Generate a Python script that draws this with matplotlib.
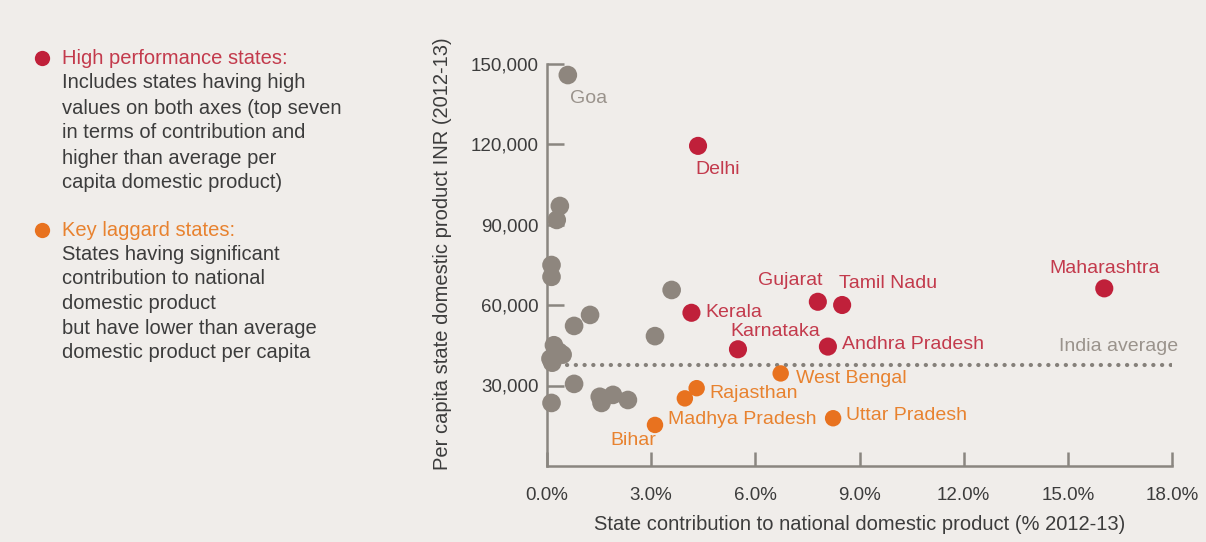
import matplotlib
matplotlib.use('Agg')
import matplotlib.pyplot as plt
from matplotlib.lines import Line2D

plt.rcParams['font.family'] = ['Liberation Sans', 'DejaVu Sans']

# 数据
# 其他邦（灰色）
gray_x = [0.60, 0.37, 0.28, 0.13, 0.13, 3.59, 1.24, 0.78, 3.11,
          0.20, 0.35, 0.45, 0.10, 0.15, 0.78, 0.13, 1.52, 1.57, 1.90, 2.33]
gray_y = [145700, 96900, 91700, 74900, 70500, 65600, 56300, 52200, 48400,
          45000, 42500, 41500, 40000, 38500, 30600, 23500, 25800, 23500, 26500, 24600]
goa_index = 0

# 高表现邦（红色）
high_names = ['Delhi', 'Kerala', 'Karnataka', 'Gujarat', 'Tamil Nadu', 'Andhra Pradesh', 'Maharashtra']
high_x = [4.35, 4.16, 5.50, 7.80, 8.50, 8.09, 16.05]
high_y = [119300, 57100, 43500, 61200, 60000, 44500, 66200]

# 落后邦（橙色）
lag_names = ['West Bengal', 'Rajasthan', 'Madhya Pradesh', 'Bihar', 'Uttar Pradesh']
lag_x = [6.73, 4.31, 3.97, 3.11, 8.24]
lag_y = [34500, 29000, 25200, 15300, 17800]

india_avg = 37600

x_ticks = [0, 3, 6, 9, 12, 15, 18]
y_ticks = [30000, 60000, 90000, 120000, 150000]

# 颜色
bg = '#f0edea'
red = '#c0203a'
red_txt = '#c33a4c'
orange = '#e8721f'
orange_txt = '#e8822f'
gray = '#8e867e'
gray_txt = '#9a938c'
axis_col = '#8a8680'
tick_txt = '#3c3c3c'

W, H = 1206, 542
fig = plt.figure(figsize=(W / 100, H / 100), dpi=100, facecolor=bg)
ax = fig.add_axes([547 / W, 1 - 466 / H, (1172 - 547) / W, (466 - 63.5) / H])
ax.set_facecolor(bg)

ax.set_xlim(0, 18)
ax.set_ylim(0, 150000)

# 点
ax.scatter(gray_x, gray_y, s=180, color=gray, edgecolors='none', clip_on=False, zorder=3)
ax.scatter(high_x, high_y, s=170, color=red, edgecolors='none', clip_on=False, zorder=4)
ax.scatter(lag_x, lag_y, s=140, color=orange, edgecolors='none', clip_on=False, zorder=4)

# 印度平均线
ax.plot([0.57, 18], [india_avg, india_avg], color='#85807a', lw=3.0,
        linestyle=(0, (0.05, 2.05)), dash_capstyle='round', zorder=2)
ax.annotate('India average', (18, india_avg), xytext=(6, 19), textcoords='offset pixels',
            ha='right', va='center', fontsize=14, color=gray_txt)

# 标签偏移（像素）
high_off = {'Delhi': (20, -24, 'center'), 'Kerala': (14, 0, 'left'),
            'Karnataka': (-8, 18, 'left'), 'Gujarat': (5, 21, 'right'),
            'Tamil Nadu': (-3, 21, 'left'), 'Andhra Pradesh': (14, 2, 'left'),
            'Maharashtra': (0, 20, 'center')}
lag_off = {'West Bengal': (15, -5, 'left'), 'Rajasthan': (13, -5, 'left'),
           'Madhya Pradesh': (-17, -21, 'left'), 'Bihar': (-22, -16, 'center'),
           'Uttar Pradesh': (13, 3, 'left')}

for n, x, y in zip(high_names, high_x, high_y):
    dx, dy, ha = high_off[n]
    ax.annotate(n, (x, y), xytext=(dx, dy), textcoords='offset pixels',
                ha=ha, va='center', fontsize=14, color=red_txt, zorder=5)
for n, x, y in zip(lag_names, lag_x, lag_y):
    dx, dy, ha = lag_off[n]
    ax.annotate(n, (x, y), xytext=(dx, dy), textcoords='offset pixels',
                ha=ha, va='center', fontsize=14, color=orange_txt, zorder=5)
ax.annotate('Goa', (gray_x[goa_index], gray_y[goa_index]), xytext=(2, -23),
            textcoords='offset pixels', ha='left', va='center', fontsize=14, color=gray_txt)

# 坐标轴
for s in ['top', 'right']:
    ax.spines[s].set_visible(False)
for s in ['left', 'bottom']:
    ax.spines[s].set_color(axis_col)
    ax.spines[s].set_linewidth(1.8)

ax.set_xticks(x_ticks)
ax.set_xticklabels(['%.1f%%' % v for v in x_ticks])
ax.set_yticks(y_ticks)
ax.set_yticklabels(['{:,}'.format(v) for v in y_ticks])
ax.tick_params(axis='x', direction='in', length=10, width=1.8, color=axis_col,
               pad=15, labelsize=13.5, labelcolor=tick_txt)
ax.tick_params(axis='y', direction='in', length=12, width=1.8, color=axis_col,
               pad=6, labelsize=13.5, labelcolor=tick_txt)

ax.set_xlabel('State contribution to national domestic product (% 2012-13)',
              fontsize=14.5, color=tick_txt, labelpad=8)
ax.set_ylabel('Per capita state domestic product INR (2012-13)',
              fontsize=14.5, color=tick_txt)
ax.yaxis.set_label_coords((452 - 547) / (1172 - 547), (466 - 254) / (466 - 63.5))

# 左侧说明文字
def fx(px):
    return px / W


def fy(py):
    return 1 - py / H


fig.add_artist(Line2D([fx(42)], [fy(58)], marker='o', markersize=11, color=red,
                      markeredgewidth=0, transform=fig.transFigure))
fig.add_artist(Line2D([fx(42)], [fy(230)], marker='o', markersize=11, color=orange,
                      markeredgewidth=0, transform=fig.transFigure))

fs_note = 14.5
fig.text(fx(62), fy(58), 'High performance states:', color=red_txt, fontsize=fs_note, va='center')
high_desc = ['Includes states having high', 'values on both axes (top seven',
             'in terms of contribution and', 'higher than average per',
             'capita domestic product)']
for i, t in enumerate(high_desc):
    fig.text(fx(62), fy(83 + 25 * i), t, color=tick_txt, fontsize=fs_note, va='center')

fig.text(fx(62), fy(230), 'Key laggard states:', color=orange_txt, fontsize=fs_note, va='center')
lag_desc = ['States having significant', 'contribution to national',
            'domestic product', 'but have lower than average',
            'domestic product per capita']
for i, t in enumerate(lag_desc):
    fig.text(fx(62), fy(254 + 24.7 * i), t, color=tick_txt, fontsize=fs_note, va='center')

fig.savefig('out.png', dpi=100, facecolor=bg)
